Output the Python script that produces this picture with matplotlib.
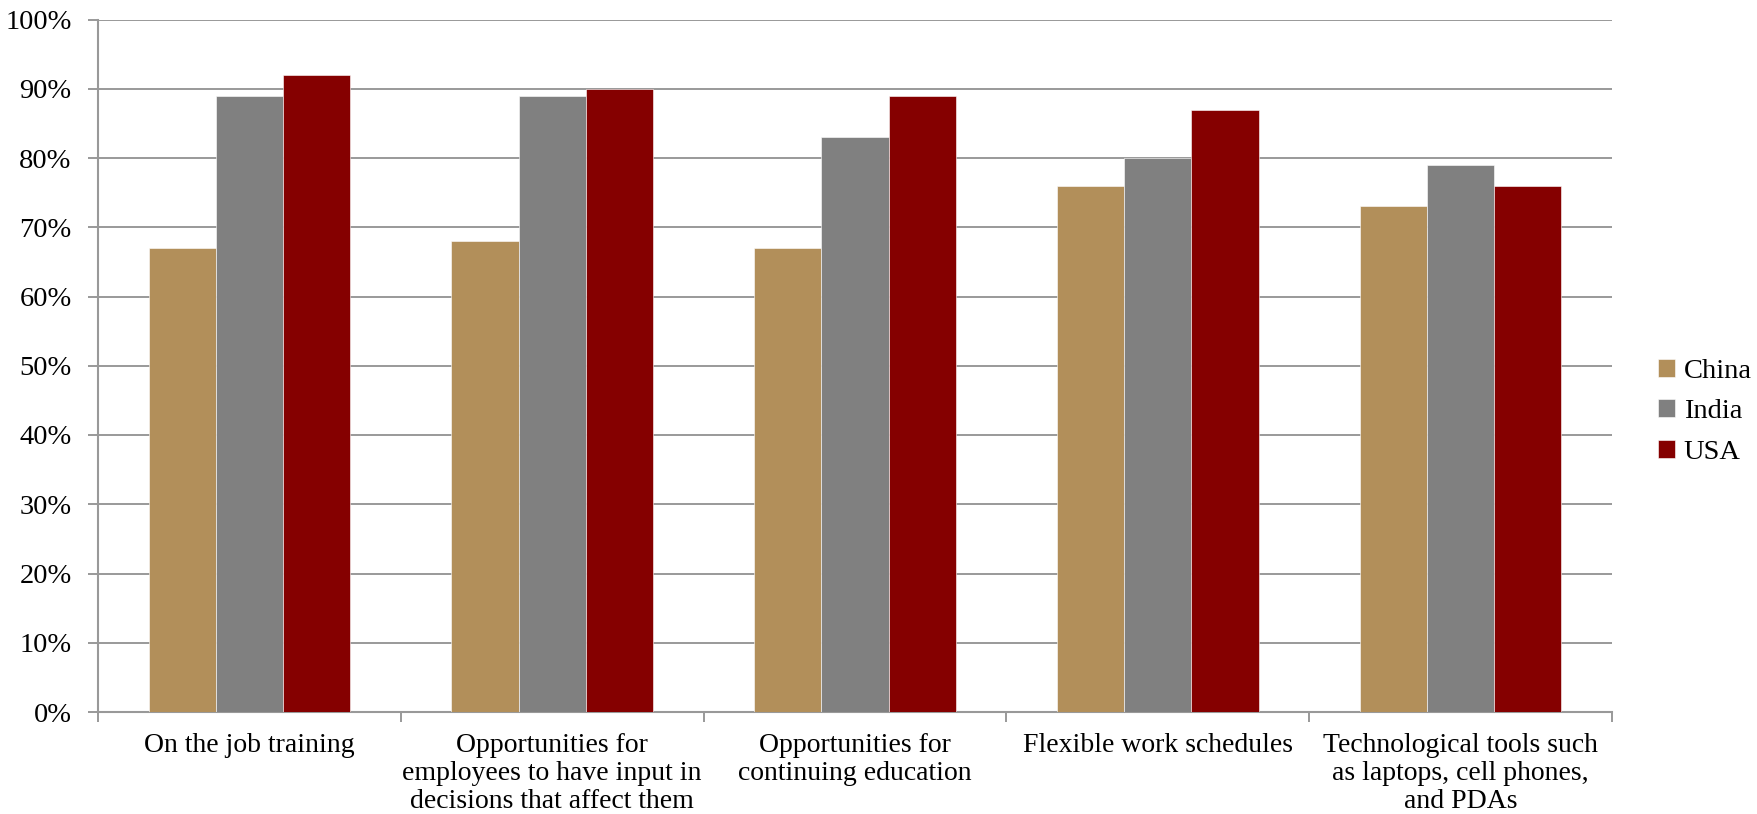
import numpy as np
import matplotlib
matplotlib.use("Agg")
import matplotlib.pyplot as plt
from matplotlib.ticker import PercentFormatter

# data
categories = ["On the job training",
              "Opportunities for\nemployees to have input in\ndecisions that affect them",
              "Opportunities for\ncontinuing education",
              "Flexible work schedules",
              "Technological tools such\nas laptops, cell phones,\nand PDAs"]
china = [67, 68, 67, 76, 73]
india = [89, 89, 83, 80, 79]
usa = [92, 90, 89, 87, 76]
series_names = ["China", "India", "USA"]
colors = ["#B28F5A", "#808080", "#850000"]

plt.rcParams['font.family'] = ['Liberation Serif', 'DejaVu Serif']

fig = plt.figure(figsize=(17.58, 8.14), dpi=100)
ax = fig.add_axes([98/1758, 1-712/814, (1612-98)/1758, (712-19.5)/814])

x = np.arange(len(categories))
w = 0.222
for i, (vals, name, c) in enumerate(zip([china, india, usa], series_names, colors)):
    ax.bar(x + (i-1)*w, vals, width=w, color=c, label=name,
           edgecolor="white", linewidth=0.4, zorder=3)

ax.set_xlim(-0.5, len(categories)-0.5)
ax.set_ylim(0, 100)
ax.set_yticks(np.arange(0, 101, 10))
ax.yaxis.set_major_formatter(PercentFormatter(decimals=0))
ax.grid(axis='y', color='#888888', linewidth=1.2, zorder=0)

ax.set_xticks(x)
ax.set_xticklabels(categories, fontsize=20, linespacing=1.17, va='top')
ax.set_xticks(np.arange(-0.5, len(categories)), minor=True)
ax.tick_params(axis='x', which='major', length=0, pad=15)
ax.tick_params(axis='x', which='minor', length=7, width=1.2, color='#888888')
ax.tick_params(axis='y', length=7, width=1.2, color='#888888', labelsize=20.5, pad=12)

for s in ['top', 'right']:
    ax.spines[s].set_visible(False)
for s in ['left', 'bottom']:
    ax.spines[s].set_color('#999999')
    ax.spines[s].set_linewidth(1.5)

ax.legend(loc='center left', bbox_to_anchor=(0.935, 0.494), bbox_transform=fig.transFigure,
          frameon=False, fontsize=20.5, handlelength=0.6, handleheight=0.6,
          handletextpad=0.3, labelspacing=0.55, borderpad=0)

fig.savefig("out.png", dpi=100)
